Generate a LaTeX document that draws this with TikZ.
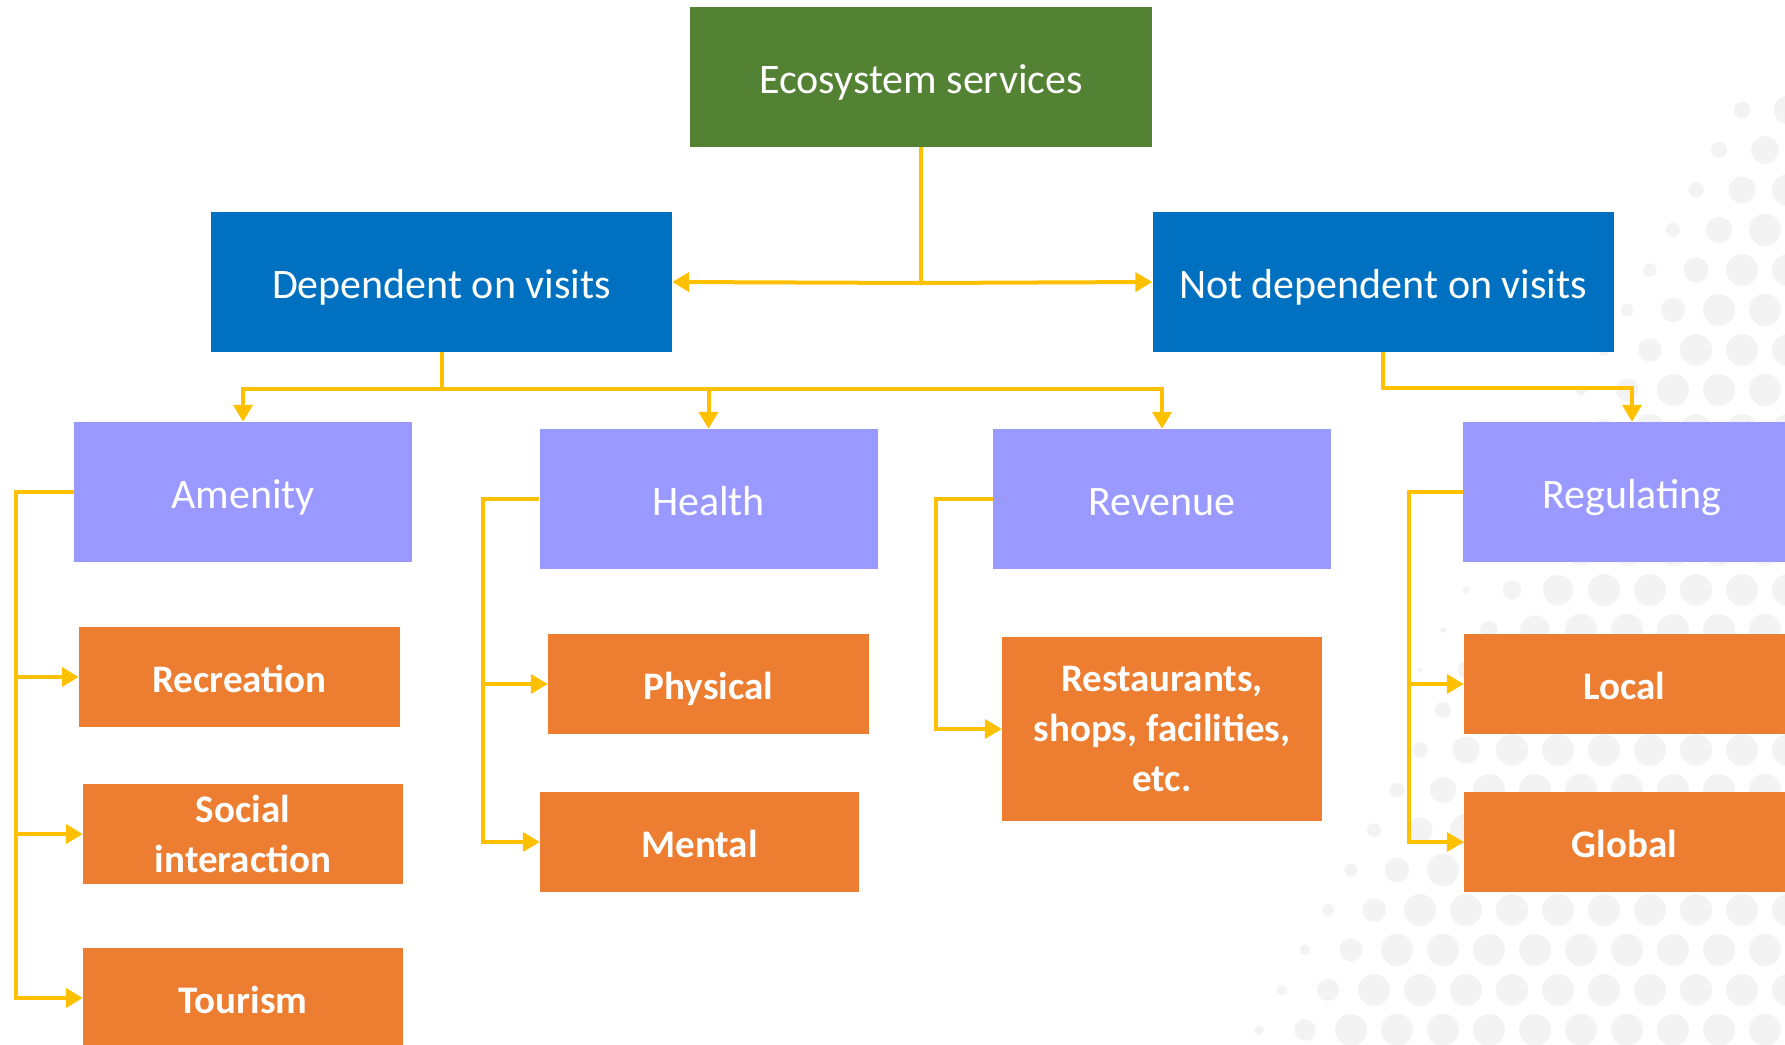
\documentclass[tikz,border=0pt]{standalone}
\usepackage{fontspec}
\setmainfont{Carlito}
\usetikzlibrary{arrows.meta}
\definecolor{ecogreen}{HTML}{548235}
\definecolor{depblue}{HTML}{0070C0}
\definecolor{lav}{HTML}{9999FF}
\definecolor{org}{HTML}{ED7D31}
\definecolor{yel}{HTML}{FFC000}
\definecolor{dotc}{HTML}{F3F3F3}
\tikzset{
  box/.style={rectangle, inner sep=0pt, text=white, align=center},
  oneline/.style={text height=38pt, text depth=5.5pt},
  onelineb/.style={text height=36pt, text depth=5.2pt},
  topbox/.style={box, oneline, fill=ecogreen, minimum width=462pt, minimum height=140pt, font=\fontsize{42}{50}\selectfont},
  midbox/.style={box, oneline, fill=depblue, minimum width=461pt, minimum height=140pt, font=\fontsize{42}{50}\selectfont},
  catbox/.style={box, oneline, fill=lav, minimum width=338pt, minimum height=140pt, font=\fontsize{42}{50}\selectfont},
  leafbox/.style={box, fill=org, minimum width=320pt, minimum height=100pt, font=\fontsize{39}{50}\selectfont\bfseries},
  conn/.style={draw=yel, line width=4pt},
  arr/.style={conn, -{Triangle[length=17pt,width=19pt]}}
}
\begin{document}
\begin{tikzpicture}[x=1pt,y=-1pt]
\useasboundingbox (0,0) rectangle (1785,1044);
\clip (0,0) rectangle (1785,1044);
\fill[white] (0,0) rectangle (1785,1044);
% halftone dots
\foreach \j in {0,...,25}{
  \foreach \i in {0,...,20}{
    \pgfmathsetmacro\xx{960+46*\i+23*mod(\j,2)}
    \pgfmathsetmacro\yy{110+40*\j}
    \pgfmathsetmacro\dd{0.896*\xx+0.443*\yy-1565}
    \pgfmathsetmacro\rr{min(16,2+\dd/7)}
    \ifdim\rr pt>2.5pt \ifdim\dd pt>0pt \fill[dotc] (\xx,\yy) circle[radius=\rr]; \fi\fi
  }
}
% nodes
\node[topbox] (eco) at (921,77) {Ecosystem services};
\node[midbox] (dep) at (441.5,282) {Dependent on visits};
\node[midbox] (ndep) at (1383,282) {Not dependent on visits};
\node[catbox] (amen) at (243,492) {Amenity};
\node[catbox] (health) at (708.5,499) {Health};
\node[catbox] (rev) at (1162,499) {Revenue};
\node[catbox] (reg) at (1632,492) {Regulating};
\node[leafbox, onelineb, minimum width=321pt] (recr) at (239.5,677) {Recreation};
\node[leafbox] (social) at (243,834) {Social\\interaction};
\node[leafbox, onelineb] (tour) at (243,998) {Tourism};
\node[leafbox, onelineb, minimum width=321pt] (phys) at (708.5,684) {Physical};
\node[leafbox, onelineb, minimum width=319pt] (mental) at (699.5,842) {Mental};
\node[leafbox, minimum height=184pt] (rest) at (1162,729) {Restaurants,\\shops, facilities,\\etc.};
\node[leafbox, onelineb, minimum width=321pt] (local) at (1624.5,684) {Local};
\node[leafbox, onelineb, minimum width=321pt] (global) at (1624.5,842) {Global};
% connectors
\coordinate (ej) at (921,283);
\draw[conn] (eco.south) -- (ej);
\draw[arr] (ej) -- (dep.east);
\draw[arr] (ej) -- (ndep.west);
\coordinate (dj) at (441.5,389);
\draw[conn] (dep.south) -- (dj);
\draw[arr] (dj) -| (amen.north);
\draw[arr] (dj) -| (health.north);
\draw[arr] (dj) -| (rev.north);
\coordinate (nj) at (1383,388);
\draw[arr] (ndep.south) -- (nj) -| (reg.north);
\coordinate (al) at (16,492);
\draw[arr] (amen.west) -- (al) |- (recr.west);
\draw[arr] (al) |- (social.west);
\draw[arr] (al) |- (tour.west);
\coordinate (hl) at (483,499);
\draw[arr] (health.west) -- (hl) |- (phys.west);
\draw[arr] (hl) |- (mental.west);
\coordinate (rl) at (936,499);
\draw[arr] (rev.west) -- (rl) |- (rest.west);
\coordinate (gl) at (1409,492);
\draw[arr] (reg.west) -- (gl) |- (local.west);
\draw[arr] (gl) |- (global.west);
\end{tikzpicture}
\end{document}
